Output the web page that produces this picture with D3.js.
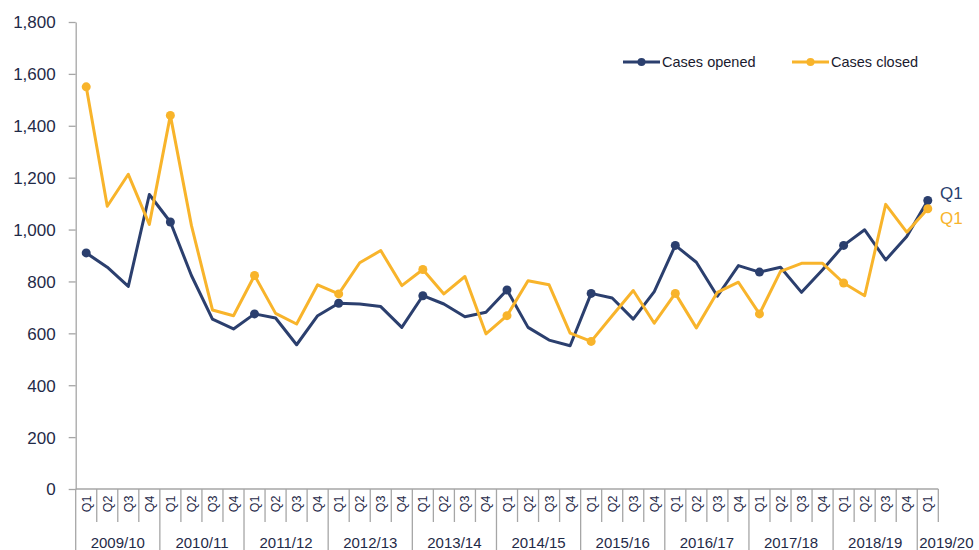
<!DOCTYPE html>
<html>
<head>
<meta charset="utf-8">
<script src="https://cdn.jsdelivr.net/npm/d3@7"></script>
<style>
  body { margin: 0; background: #fff; }
  svg { display: block; font-family: "Liberation Sans", Arial, sans-serif; }
</style>
</head>
<body>
<div id="chart"></div>
<script>
var years = ["2009/10", "2010/11", "2011/12", "2012/13", "2013/14", "2014/15",
             "2015/16", "2016/17", "2017/18", "2018/19", "2019/20"];
var quarters = ["Q1", "Q2", "Q3", "Q4"];
var yTicks = [0, 200, 400, 600, 800, 1000, 1200, 1400, 1600, 1800];

var casesOpened = [910, 855, 781, 1135, 1029, 823, 655, 617, 675, 659, 556, 668,
                   716, 713, 703, 623, 745, 713, 664, 681, 767, 623, 574, 552,
                   754, 736, 655, 761, 939, 874, 743, 861, 836, 855, 758, 845,
                   939, 999, 883, 973, 1112];
var casesClosed = [1550, 1090, 1213, 1020, 1440, 1016, 690, 668, 823, 677, 636, 787,
                   752, 872, 919, 784, 846, 752, 819, 598, 668, 803, 787, 601,
                   569, 668, 765, 639, 754, 621, 758, 797, 675, 839, 870, 870,
                   794, 745, 1097, 990, 1080];

var seriesNames = ["Cases opened", "Cases closed"];
var seriesColors = ["#2b3f6e", "#f8b42b"];

// build the category list: every quarter up to 2019/20 Q1
var cats = [];
years.forEach(function(yr) {
	quarters.forEach(function(q) {
		if (cats.length < casesOpened.length) cats.push({year: yr, q: q, key: yr + " " + q});
	});
});

var W = 979, H = 550;
var mLeft = 75.7, mRight = 938.3, mTop = 22, mBottom = 489;

var svg = d3.select("#chart").append("svg").attr("width", W).attr("height", H);

var x = d3.scaleBand().domain(cats.map(function(d) { return d.key; }))
	.range([mLeft, mRight]).padding(0);
var y = d3.scaleLinear().domain([0, 1800]).range([mBottom, mTop]);

function cx(i) { return x(cats[i].key) + x.bandwidth() / 2; }

// y axis
var yAxis = svg.append("g")
	.attr("transform", "translate(" + mLeft + ",0)")
	.call(d3.axisLeft(y).tickValues(yTicks).tickSize(7).tickSizeOuter(0).tickFormat(d3.format(",")));
yAxis.select(".domain").attr("stroke", "#a6a6a6").attr("stroke-width", 1.3);
yAxis.selectAll(".tick line").attr("stroke", "#a6a6a6").attr("stroke-width", 1.3);
yAxis.selectAll(".tick text")
	.attr("x", -20)
	.attr("dy", "0.35em")
	.style("font-size", "17px")
	.style("fill", "#1f2a48")
	.attr("font-family", null);

// x axis line and category dividers
var xa = svg.append("g").attr("class", "x-axis");
xa.append("line")
	.attr("x1", mLeft).attr("x2", mRight)
	.attr("y1", mBottom).attr("y2", mBottom)
	.attr("stroke", "#a6a6a6").attr("stroke-width", 1.3);

var bounds = cats.map(function(d) { return x(d.key); }).concat([mRight]);
xa.selectAll("line.div")
	.data(bounds)
	.enter().append("line")
	.attr("class", "div")
	.attr("x1", function(d) { return d; })
	.attr("x2", function(d) { return d; })
	.attr("y1", mBottom)
	.attr("y2", function(d, i) { return (i % 4 === 0 && i < cats.length) ? 550 : 522; })
	.attr("stroke", "#a6a6a6").attr("stroke-width", 1.3);

xa.selectAll("text.q")
	.data(cats)
	.enter().append("text")
	.attr("class", "q")
	.attr("transform", function(d, i) {
		return "translate(" + (cx(i) + 4.5) + "," + 504 + ") rotate(-90)";
	})
	.attr("text-anchor", "middle")
	.style("font-size", "12.5px")
	.style("fill", "#1f2a48")
	.text(function(d) { return d.q; });

xa.selectAll("text.yr")
	.data(years)
	.enter().append("text")
	.attr("class", "yr")
	.attr("x", function(d) {
		var s = cats.filter(function(c) { return c.year === d; });
		var x0 = x(s[0].key), x1 = x(s[s.length - 1].key) + x.bandwidth();
		return s.length === 1 ? x0 + 2 : (x0 + x1) / 2;
	})
	.attr("y", 548)
	.attr("text-anchor", function(d) { return d === "2019/20" ? "start" : "middle"; })
	.style("font-size", "15px")
	.style("fill", "#1f2a48")
	.text(function(d) { return d; });

// lines
var line = d3.line()
	.x(function(d, i) { return cx(i); })
	.y(function(d) { return y(d); });

[casesOpened, casesClosed].forEach(function(vals, s) {
	svg.append("path")
		.datum(vals)
		.attr("fill", "none")
		.attr("stroke", seriesColors[s])
		.attr("stroke-width", 3)
		.attr("stroke-linejoin", "round")
		.attr("d", line);
});

[casesOpened, casesClosed].forEach(function(vals, s) {
	svg.selectAll("circle.m" + s)
		.data(vals.map(function(v, i) { return {v: v, i: i}; }).filter(function(d) { return cats[d.i].q === "Q1"; }))
		.enter().append("circle")
		.attr("class", "m" + s)
		.attr("cx", function(d) { return cx(d.i); })
		.attr("cy", function(d) { return y(d.v); })
		.attr("r", 4.5)
		.attr("fill", seriesColors[s]);
});

// end labels
var last = cats.length - 1;
svg.append("text").attr("x", 940).attr("y", 193).attr("dy", "0.35em")
	.style("font-size", "17px").style("fill", seriesColors[0]).text(cats[last].q);
svg.append("text").attr("x", 940).attr("y", 218).attr("dy", "0.35em")
	.style("font-size", "17px").style("fill", seriesColors[1]).text(cats[last].q);

// legend
var legendX = [623, 792];
var lg = svg.selectAll("g.legend")
	.data(seriesNames)
	.enter().append("g")
	.attr("class", "legend")
	.attr("transform", function(d, i) { return "translate(" + legendX[i] + ",62)"; });
lg.append("line").attr("x1", 0).attr("x2", 37).attr("y1", 0).attr("y2", 0)
	.attr("stroke", function(d, i) { return seriesColors[i]; }).attr("stroke-width", 3);
lg.append("circle").attr("cx", 18.5).attr("cy", 0).attr("r", 4)
	.attr("fill", function(d, i) { return seriesColors[i]; });
lg.append("text").attr("x", 39).attr("y", 0).attr("dy", "0.35em")
	.style("font-size", "14.5px").style("fill", "#1a1a2e")
	.text(function(d) { return d; });
</script>
</body>
</html>
